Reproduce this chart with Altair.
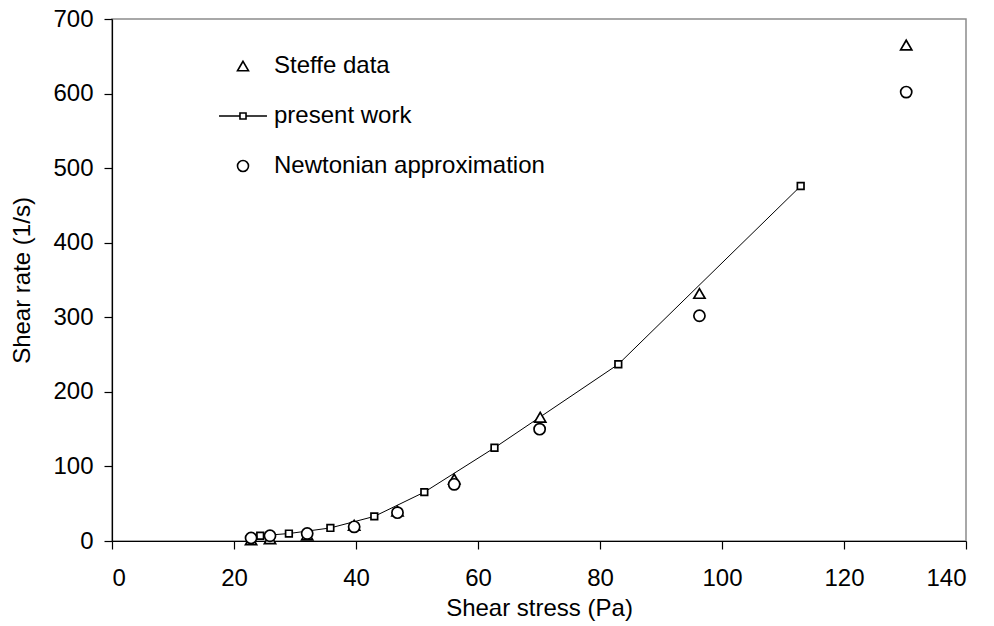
import altair as alt
import pandas as pd

# Steffe data: shear stress (Pa) and measured shear rate (1/s)
steffe_stress = [22.8, 25.9, 32.0, 39.7, 46.8, 56.1, 70.2, 96.3, 130.2]
steffe_rate = [1.5, 3.0, 8.0, 21.0, 40.0, 83.0, 166.0, 332.0, 665.0]

# Newtonian approximation at the same stresses
newton_stress = [22.8, 25.9, 32.0, 39.7, 46.8, 56.1, 70.1, 96.3, 130.2]
newton_rate = [4.0, 7.0, 10.0, 19.0, 38.0, 76.0, 150.0, 302.0, 602.0]

# Present work model curve
present_stress = [24.3, 29.0, 35.8, 43.0, 51.2, 62.7, 83.0, 112.9]
present_rate = [7.0, 10.0, 17.5, 33.0, 65.5, 125.0, 237.0, 476.0]

series_names = ["Steffe data", "present work", "Newtonian approximation"]
x_ticks = [0, 20, 40, 60, 80, 100, 120, 140]
y_ticks = [0, 100, 200, 300, 400, 500, 600, 700]

FONT = "Liberation Sans"

present = pd.DataFrame({"stress": present_stress, "rate": present_rate,
                        "series": "present work"})
steffe = pd.DataFrame({"stress": steffe_stress, "rate": steffe_rate,
                       "series": "Steffe data"})
newton = pd.DataFrame({"stress": newton_stress, "rate": newton_rate,
                       "series": "Newtonian approximation"})
# triangles first so the circles sit on top of them
measured = pd.concat([steffe, newton], ignore_index=True)

x_enc = alt.X("stress:Q", title="Shear stress (Pa)",
              scale=alt.Scale(domain=[0, 140], nice=False),
              axis=alt.Axis(values=x_ticks, format="d", labelPadding=17,
                            titlePadding=6))
y_enc = alt.Y("rate:Q", title="Shear rate (1/s)",
              scale=alt.Scale(domain=[0, 700], nice=False),
              axis=alt.Axis(values=y_ticks, format="d", labelPadding=11,
                            titlePadding=18))

hollow = dict(filled=False, fill="white", stroke="black", strokeWidth=1.7,
              opacity=1)

curve = alt.Chart(present).mark_line(color="black", strokeWidth=1).encode(
    x=x_enc, y=y_enc)
squares = alt.Chart(present).mark_point(shape="square", size=44,
                                        **hollow).encode(x=x_enc, y=y_enc)

# legend symbol for the model: a line through a small square
curve_symbol = ("M-4.36,0H-0.55M0.55,0H4.36"
                "M-0.55,-0.55H0.55V0.55H-0.55Z")
markers = alt.Chart(measured).mark_point(size=125, **hollow).encode(
    x=x_enc, y=y_enc,
    shape=alt.Shape(
        "series:N",
        scale=alt.Scale(domain=series_names,
                        range=["triangle-up", curve_symbol, "circle"]),
        legend=alt.Legend(
            title=None, orient="none", legendX=119, legendY=35,
            symbolSize=121, symbolStrokeWidth=1.6,
            labelFont=FONT, labelFontSize=24, labelColor="black",
            labelOffset=19, rowPadding=26, padding=0, labelLimit=400,
        ),
    ),
)

chart = alt.layer(curve, squares, markers).properties(
    width=854, height=522,
    autosize=alt.AutoSizeParams(type="none"),
    padding={"left": 112, "top": 19, "right": 28, "bottom": 85},
).configure_view(
    stroke="#8c8c8c", strokeWidth=1.5
).configure_axis(
    grid=False, domainColor="black", domainWidth=1.2, tickColor="black",
    tickSize=8, tickWidth=1.2, labelFont=FONT, labelFontSize=24,
    labelColor="black", titleFont=FONT, titleFontSize=24,
    titleFontWeight="normal", titleColor="black",
)

chart.save("out.html", embed_options={"renderer": "svg", "actions": False})
